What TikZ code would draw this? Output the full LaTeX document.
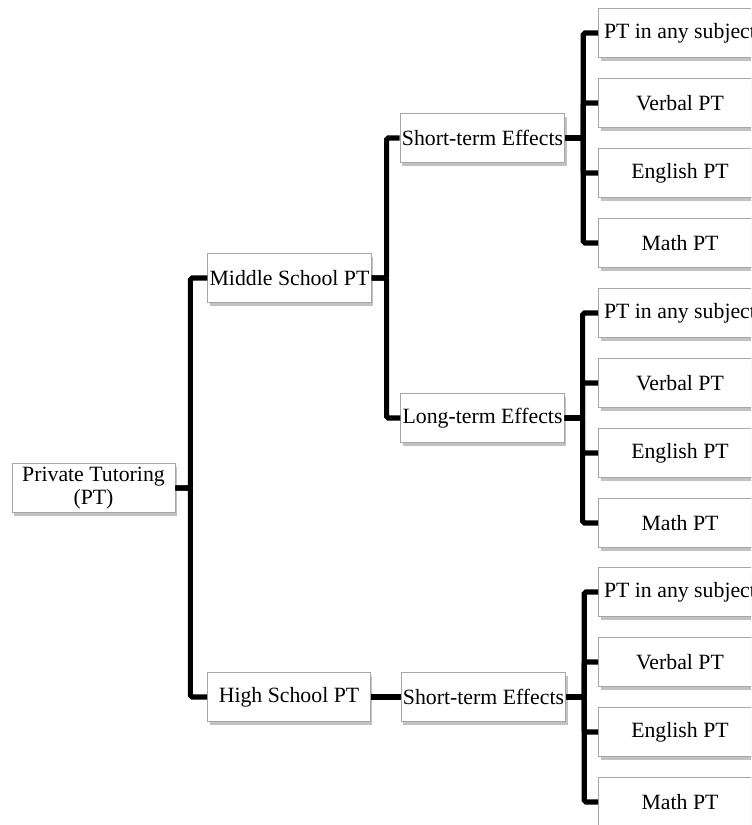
\documentclass[tikz,border=0pt]{standalone}
\usepackage{fontspec}
\setmainfont{Liberation Serif}
\usetikzlibrary{positioning}
\usetikzlibrary{shadows}
\tikzset{box/.style = {draw=gray!70, fill=white, line width=0.5pt,
                       minimum width=3.26cm, minimum height=0.98cm,
                       inner sep=1pt, align=center,
                       font=\fontsize{12.4}{13.5}\selectfont,
                       drop shadow={shadow xshift=0.04cm, shadow yshift=-0.07cm,
                                    opacity=0.4, fill=black!60}}}
\tikzset{link/.style = {line width=2.9pt, rounded corners=1pt}}

\begin{document}
\begin{tikzpicture}[x=0.02cm, y=-0.02cm]
      \useasboundingbox (0, 0) rectangle (751, 825);
      \clip (0, 0) rectangle (751, 825);
      \node [box] (root) at (93.5, 488) {Private Tutoring\\(PT)};
      \node [box] (ms) at (289.5, 278) {Middle School PT};
      \node [box] (hs) at (289, 697) {High School PT};
      \node [box] (mss) at (482.5, 138) {Short-term Effects};
      \node [box] (msl) at (482.5, 418) {Long-term Effects};
      \node [box] (hss) at (483.5, 697) {Short-term Effects};
      % leaves of each effects box
      \foreach \g/\y in {mss/33, msl/313, hss/592} {
        \foreach \t [count=\i from 0] in {PT in any subject, Verbal PT, English PT, Math PT} {
          \node [box] (\g-\i) at (680, {\y + 70*\i}) {\t};
          \draw [link] (\g.east) -- ++(18, 0) |- (\g-\i.west);
        }
      }
      \draw [link] (root.east) -- ++(15, 0) |- (ms.west);
      \draw [link] (root.east) -- ++(15, 0) |- (hs.west);
      \draw [link] (ms.east) -- ++(15, 0) |- (mss.west);
      \draw [link] (ms.east) -- ++(15, 0) |- (msl.west);
      \draw [link] (hs.east) -- (hss.west);
    \end{tikzpicture}
\end{document}
